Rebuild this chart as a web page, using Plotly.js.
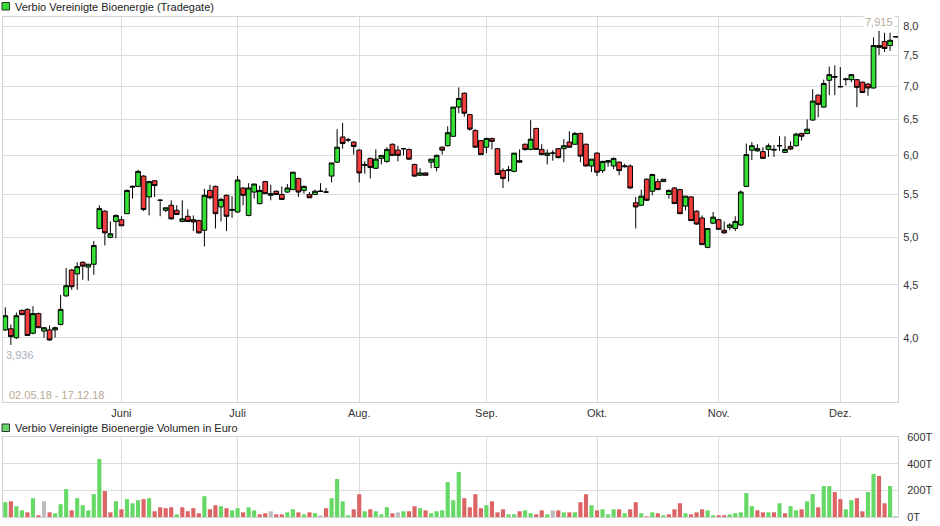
<!DOCTYPE html>
<html><head><meta charset="utf-8">
<script src="https://cdn.plot.ly/plotly-3.0.1.min.js"></script>
<style>html,body{margin:0;padding:0;background:#fff}#chart{width:940px;height:526px}</style>
</head><body><div id="chart"></div>
<script>
// ---- data ----
const startDate = '2018-05-02';
const endDate = '2018-12-17';
const closedDays = ['2018-05-10', '2018-10-03'];
const monthTickDates = ['2018-06-01','2018-07-02','2018-08-01','2018-09-03','2018-10-01','2018-11-01','2018-12-03'];
const monthLabels = ['Juni','Juli','Aug.','Sep.','Okt.','Nov.','Dez.'];
const priceTicks = [4,4.5,5,5.5,6,6.5,7,7.5,8];
const volTicks = [0,200,400,600];
const volTickText = ['0T','200T','400T','600T'];
const titlePrice = 'Verbio Vereinigte Bioenergie (Tradegate)';
const titleVolume = 'Verbio Vereinigte Bioenergie Volumen in Euro';
const rangeLabel = '02.05.18 - 17.12.18';

const open = [4.07,4.08,4.00,4.25,4.26,4.04,4.22,4.06,4.07,4.07,4.12,4.39,4.65,4.61,4.73,4.68,4.71,5.10,5.30,5.00,
5.18,5.20,5.27,5.59,5.60,5.73,5.47,5.67,5.43,5.31,5.37,5.31,5.18,5.24,5.20,5.19,5.08,5.55,5.60,5.35,
5.49,5.31,5.29,5.58,5.25,5.53,5.39,5.66,5.49,5.54,5.50,5.53,5.56,5.70,5.55,5.50,5.50,5.54,5.53,5.73,
5.91,6.25,6.21,6.18,6.07,5.88,5.96,5.83,5.96,5.92,6.15,6.07,6.09,6.08,5.88,5.74,5.77,5.91,5.84,6.11,
6.13,6.26,6.68,6.89,6.57,6.34,6.20,6.11,6.23,6.09,5.80,5.80,5.79,5.93,6.15,6.08,6.37,6.08,6.00,6.03,
6.09,6.09,6.18,6.15,6.30,6.15,5.86,6.03,5.80,5.91,5.86,5.91,5.85,5.86,5.40,5.37,5.69,5.54,5.66,5.66,
5.50,5.58,5.56,5.36,5.47,5.30,5.22,4.89,5.16,5.20,5.08,5.11,5.10,5.14,5.60,6.07,6.06,6.05,6.08,6.07,
6.13,6.04,6.12,6.13,6.30,6.30,6.49,6.86,6.68,7.09,7.15,6.99,7.10,7.10,7.10,7.06,7.03,6.97,7.66,7.73,
7.66,7.81];
const high = [4.28,4.12,4.23,4.26,4.27,4.29,4.23,4.09,4.11,4.10,4.40,4.67,4.66,4.73,4.74,4.71,4.96,5.37,5.31,5.18,
5.26,5.24,5.56,5.61,5.81,5.74,5.67,5.68,5.44,5.34,5.43,5.37,5.43,5.32,5.25,5.20,5.57,5.62,5.61,5.46,
5.50,5.48,5.73,5.59,5.64,5.63,5.61,5.67,5.62,5.55,5.60,5.63,5.78,5.71,5.61,5.53,5.56,5.64,5.58,5.90,
6.36,6.45,6.24,6.19,6.08,5.92,5.97,6.08,6.00,6.11,6.16,6.13,6.10,6.09,5.89,5.83,5.78,5.95,6.01,6.12,
6.40,6.68,6.98,6.90,6.58,6.36,6.21,6.24,6.24,6.10,5.83,5.86,6.03,6.08,6.16,6.49,6.38,6.15,6.08,6.07,
6.10,6.22,6.33,6.32,6.31,6.16,5.95,6.04,5.93,5.94,5.97,5.92,5.89,5.88,5.47,5.56,5.70,5.76,5.70,5.69,
5.56,5.59,5.57,5.48,5.48,5.31,5.25,5.10,5.29,5.21,5.18,5.16,5.24,5.55,6.16,6.18,6.15,6.11,6.16,6.14,
6.26,6.26,6.19,6.31,6.31,6.50,6.95,6.87,7.10,7.31,7.33,7.30,7.13,7.19,7.11,7.07,7.05,7.80,7.915,7.88,
7.88,7.81];
const low = [4.06,3.936,3.99,4.21,4.02,4.03,4.09,4.00,3.97,4.00,4.11,4.38,4.45,4.45,4.55,4.54,4.60,5.09,4.91,4.99,
4.99,5.13,5.27,5.45,5.59,5.30,5.25,5.47,5.24,5.29,5.20,5.26,5.17,5.18,5.07,5.04,4.90,5.44,5.10,5.18,
5.07,5.22,5.28,5.37,5.24,5.45,5.38,5.51,5.43,5.50,5.44,5.52,5.56,5.47,5.51,5.46,5.50,5.53,5.52,5.65,
5.90,6.09,6.18,6.01,5.65,5.76,5.70,5.82,5.88,5.90,5.99,5.92,6.00,5.94,5.72,5.73,5.74,5.83,5.79,6.01,
6.12,6.25,6.59,6.54,6.34,6.10,6.01,6.03,6.08,5.75,5.58,5.66,5.78,5.90,6.06,6.07,6.08,6.00,5.88,5.93,
5.96,5.91,6.10,6.14,5.91,5.85,5.78,5.73,5.77,5.85,5.82,5.74,5.84,5.57,5.10,5.36,5.42,5.49,5.56,5.66,
5.45,5.39,5.27,5.31,5.19,5.14,4.92,4.88,5.15,5.09,5.04,5.08,5.07,5.13,5.59,5.94,6.05,5.96,5.98,5.98,
6.06,6.03,6.07,6.12,6.20,6.29,6.48,6.53,6.67,6.86,6.86,6.98,7.01,7.06,6.68,6.89,6.85,6.96,7.50,7.55,
7.57,7.81];
const close = [4.20,4.01,4.20,4.21,4.02,4.22,4.09,4.09,3.98,4.09,4.26,4.49,4.48,4.685,4.69,4.71,4.91,5.33,5.05,5.04,
5.25,5.13,5.55,5.60,5.79,5.32,5.66,5.61,5.43,5.34,5.21,5.26,5.21,5.18,5.175,5.05,5.49,5.46,5.27,5.44,
5.24,5.32,5.68,5.49,5.58,5.63,5.55,5.51,5.51,5.50,5.44,5.58,5.78,5.53,5.60,5.46,5.54,5.54,5.53,5.90,
6.11,6.16,6.21,6.12,5.77,5.87,5.84,5.95,6.00,6.08,6.00,6.00,6.09,5.95,5.73,5.77,5.74,5.95,6.00,6.07,
6.31,6.68,6.81,6.59,6.36,6.11,6.01,6.23,6.19,5.75,5.70,5.81,6.03,5.91,6.08,6.22,6.08,6.01,6.03,6.03,
5.97,6.13,6.11,6.30,5.99,5.86,5.95,5.78,5.92,5.93,5.96,5.80,5.86,5.58,5.35,5.48,5.43,5.75,5.56,5.69,
5.55,5.39,5.27,5.48,5.19,5.15,4.92,5.10,5.23,5.09,5.05,5.14,5.18,5.53,6.01,6.13,6.09,5.96,6.13,6.08,
6.13,6.08,6.085,6.29,6.26,6.36,6.77,6.72,7.04,7.18,7.14,6.99,7.11,7.18,6.98,6.90,6.97,7.66,7.63,7.61,
7.75,7.81];
// volume in thousand euro
const volume = [111,118,81,50,35,141,13,118,35,28,96,209,50,141,88,50,171,436,194,35,
118,58,134,103,126,134,141,43,73,66,73,20,73,43,66,28,156,58,88,81,
66,50,66,35,73,50,20,28,43,20,20,35,58,35,20,35,28,13,66,141,
285,118,13,58,171,43,58,43,20,73,28,35,43,43,81,66,50,28,43,50,
262,126,338,141,73,171,66,88,118,35,58,20,20,43,50,28,20,50,20,50,
50,35,35,35,111,171,88,50,58,20,58,58,28,58,111,28,5,35,28,13,
20,58,103,28,20,35,58,50,13,13,13,20,28,35,179,81,50,35,35,35,
103,28,81,50,58,118,171,73,232,232,187,134,58,126,141,43,187,323,308,103,
232,5];

// ---- trading-day categories ----
const days = [];
for (let d = new Date(startDate + 'T00:00:00Z'); d <= new Date(endDate + 'T00:00:00Z'); d.setUTCDate(d.getUTCDate() + 1)) {
  const wd = d.getUTCDay();
  const s = d.toISOString().slice(0, 10);
  if (wd === 0 || wd === 6 || closedDays.includes(s)) continue;
  days.push(s);
}

// ---- styling ----
const W = 940, H = 526;
const px = v => v / W;
const py = v => 1 - v / H;
const GREEN = '#33e033', RED = '#f03c3c';
const VGREEN = '#66d866', VRED = '#dc6464', VGRAY = '#bdbdbd';
const GRID = '#dcdcdc';
const FONT = '"Liberation Sans", Arial, sans-serif';

const volColors = close.map((c, i) => {
  if (i === 0) return VGREEN;
  if (c > close[i - 1]) return VGREEN;
  if (c < close[i - 1]) return VRED;
  return VGRAY;
});

let iMin = 0, iMax = 0;
low.forEach((v, i) => { if (v < low[iMin]) iMin = i; });
high.forEach((v, i) => { if (v > high[iMax]) iMax = i; });
const fmt = v => v.toFixed(3).replace('.', ',');

const xDomain = [px(3), px(898)];
const xRange = [-0.42, 161.43];

const traces = [
  {
    type: 'candlestick', x: days, open: open, high: high, low: low, close: close,
    xaxis: 'x', yaxis: 'y',
    increasing: { fillcolor: GREEN, line: { color: '#000', width: 1 } },
    decreasing: { fillcolor: RED, line: { color: '#000', width: 1 } },
    whiskerwidth: 0, hoverinfo: 'skip'
  },
  {
    type: 'bar', x: days, y: volume, xaxis: 'x2', yaxis: 'y2',
    marker: { color: volColors, line: { width: 0 } }, hoverinfo: 'skip'
  }
];

const axisCommon = { showline: true, mirror: true, linecolor: '#d2d2d2', linewidth: 1, zeroline: false,
  showgrid: true, gridcolor: GRID, gridwidth: 1, ticks: '', fixedrange: true };

const layout = {
  width: W, height: H, margin: { l: 0, r: 0, t: 0, b: 0 },
  paper_bgcolor: '#fff', plot_bgcolor: '#fff', showlegend: false, separators: ',.',
  font: { family: FONT, size: 11, color: '#333' },
  bargap: 0.25, boxgap: 0.15, boxgroupgap: 0,
  xaxis: Object.assign({}, axisCommon, {
    type: 'category', domain: xDomain, range: xRange, anchor: 'y',
    tickmode: 'array', tickvals: monthTickDates, ticktext: monthLabels,
    rangeslider: { visible: false }, tickfont: { size: 11, color: '#333' }, ticklabelstandoff: 1
  }),
  yaxis: Object.assign({}, axisCommon, {
    type: 'log', domain: [py(401.7), py(17)], range: [0.54025, 0.91178], anchor: 'x', side: 'right',
    tickmode: 'array', tickvals: priceTicks, tickformat: '.1f', tickfont: { size: 11, color: '#333' }, ticklabelstandoff: 2
  }),
  xaxis2: Object.assign({}, axisCommon, {
    type: 'category', domain: xDomain, range: xRange, anchor: 'y2',
    tickmode: 'array', tickvals: monthTickDates, showticklabels: false
  }),
  yaxis2: Object.assign({}, axisCommon, {
    domain: [py(517), py(437)], range: [0, 600], anchor: 'x2', side: 'right',
    tickmode: 'array', tickvals: volTicks, ticktext: volTickText, tickfont: { size: 11, color: '#333' }, ticklabelstandoff: 6
  }),
  shapes: [
    { type: 'rect', xref: 'paper', yref: 'paper', x0: px(2), x1: px(9.5), y0: py(10), y1: py(2.5),
      fillcolor: '#33dd33', line: { color: '#333', width: 1 } },
    { type: 'rect', xref: 'paper', yref: 'paper', x0: px(2), x1: px(9.5), y0: py(431.5), y1: py(424),
      fillcolor: '#66d866', line: { color: '#333', width: 1 } },
    { type: 'line', xref: 'x', yref: 'y', x0: iMin - 0.85, x1: iMin + 0.85,
      y0: Math.log10(low[iMin]), y1: Math.log10(low[iMin]), line: { color: '#000', width: 1 } },
    { type: 'line', xref: 'x', yref: 'y', x0: iMax - 0.85, x1: iMax + 0.85,
      y0: Math.log10(high[iMax]), y1: Math.log10(high[iMax]), line: { color: '#000', width: 1 } }
  ],
  annotations: [
    { xref: 'paper', yref: 'paper', x: px(13), y: py(6.5), xanchor: 'left', yanchor: 'middle',
      text: titlePrice, showarrow: false, font: { size: 11, color: '#222', family: FONT } },
    { xref: 'paper', yref: 'paper', x: px(13), y: py(428), xanchor: 'left', yanchor: 'middle',
      text: titleVolume, showarrow: false, font: { size: 11, color: '#222', family: FONT } },
    { xref: 'paper', yref: 'paper', x: px(7), y: py(395), xanchor: 'left', yanchor: 'middle',
      text: rangeLabel, showarrow: false, font: { size: 11, color: '#b8a992', family: FONT } },
    { xref: 'x', yref: 'y', x: days[iMin], y: Math.log10(low[iMin]), xanchor: 'left', yanchor: 'top',
      xshift: -7, yshift: -2, text: fmt(low[iMin]), showarrow: false, font: { size: 11, color: '#a9b0bb', family: FONT } },
    { xref: 'x', yref: 'y', x: days[iMax], y: Math.log10(high[iMax]), xanchor: 'center', yanchor: 'bottom',
      yshift: 1, text: fmt(high[iMax]), showarrow: false, bgcolor: '#fff', font: { size: 11, color: '#b5aa9c', family: FONT } }
  ]
};

Plotly.newPlot('chart', traces, layout, { staticPlot: true, displayModeBar: false });
</script>
</body></html>
